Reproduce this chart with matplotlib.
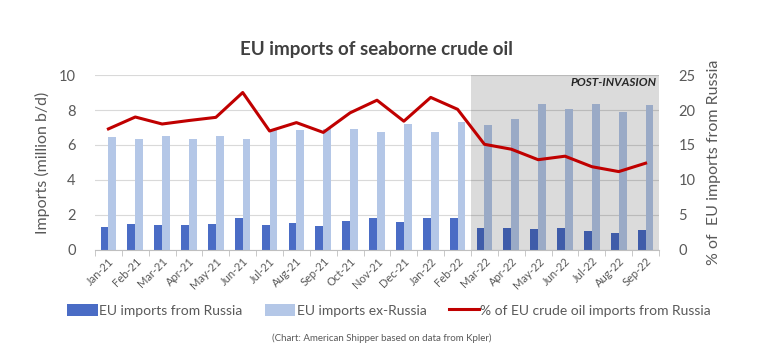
import matplotlib
matplotlib.use("Agg")
import matplotlib.pyplot as plt
import numpy as np

plt.rcParams['font.family'] = ['Lato', 'DejaVu Sans']

months = ["Jan-21", "Feb-21", "Mar-21", "Apr-21", "May-21", "Jun-21", "Jul-21",
          "Aug-21", "Sep-21", "Oct-21", "Nov-21", "Dec-21", "Jan-22", "Feb-22",
          "Mar-22", "Apr-22", "May-22", "Jun-22", "Jul-22", "Aug-22", "Sep-22"]
# million b/d
from_russia = [1.34, 1.47, 1.41, 1.43, 1.50, 1.81, 1.41, 1.52, 1.37, 1.66, 1.81,
               1.60, 1.85, 1.81, 1.24, 1.24, 1.20, 1.24, 1.10, 0.99, 1.14]
ex_russia = [6.44, 6.32, 6.50, 6.34, 6.51, 6.32, 6.85, 6.88, 6.90, 6.90, 6.74,
             7.20, 6.72, 7.30, 7.12, 7.50, 8.36, 8.08, 8.36, 7.90, 8.27]
# % of EU crude imports from Russia
pct_russia = [17.3, 19.0, 18.0, 18.5, 18.95, 22.5, 17.0, 18.2, 16.8, 19.6, 21.4,
              18.4, 21.8, 20.1, 15.1, 14.4, 12.9, 13.4, 11.9, 11.2, 12.4]
invasion_start = "Mar-22"

C_RU = "#4a6cc5"
C_EX = "#b4c7e7"
C_LINE = "#c00000"
GREY = "#595959"

fig = plt.figure(figsize=(7.63, 3.56), dpi=100)
ax = fig.add_axes([0.1245, 0.2978, 0.7392, 0.4915])
ax2 = ax.twinx()

x = np.arange(len(months))
w = 0.29
ax.bar(x - w / 2, from_russia, w, color=C_RU, zorder=2, label="EU imports from Russia")
ax.bar(x + w / 2, ex_russia, w, color=C_EX, zorder=2, label="EU imports ex-Russia")

# shaded post-invasion period (dark translucent box darkens bars too)
i0 = months.index(invasion_start)
ax.axvspan(i0 - 0.5, len(months) - 0.5, color="black", alpha=0.14, zorder=3, lw=0)
ax.text(len(months) - 0.6, 9.6, "POST-INVASION", ha="right", va="center",
        fontsize=8.5, fontweight="bold", fontstyle="italic", color="#262626", zorder=4)

ax2.plot(x, pct_russia, color=C_LINE, lw=2.2, zorder=5,
         label="% of EU crude oil imports from Russia")

ax.set_xlim(-0.5, len(months) - 0.5)
ax.set_ylim(0, 10)
ax2.set_ylim(0, 25)
ax.set_yticks(range(0, 11, 2))
ax2.set_yticks(range(0, 26, 5))
ax.grid(axis="y", color="#d9d9d9", lw=0.8, zorder=0)
ax.set_axisbelow(True)

for a in (ax, ax2):
    for s in a.spines.values():
        s.set_visible(False)
ax.spines["bottom"].set_visible(True)
ax.spines["bottom"].set_color("#bfbfbf")

ax.set_xticks(x)
ax.set_xticklabels(months, rotation=45, ha="right", rotation_mode="anchor",
                   fontsize=8, color=GREY)
ax.set_xticks(np.arange(-0.5, len(months)), minor=True)
ax.tick_params(axis="x", which="major", length=0, pad=4)
ax.tick_params(axis="x", which="minor", length=4, color="#bfbfbf")
ax.tick_params(axis="y", length=0, labelsize=10.5, labelcolor=GREY, pad=14)
ax2.tick_params(axis="y", length=0, labelsize=10.5, labelcolor=GREY, pad=14)

ax.set_ylabel("Imports (million b/d)", fontsize=11.5, color=GREY, labelpad=6)
ax2.set_ylabel("% of  EU imports from Russia", fontsize=11.5, color=GREY, labelpad=8)

fig.text(0.494, 0.86, "EU imports of seaborne crude oil", ha="center", va="center",
         fontsize=13.5, fontweight="bold", color="#404040")

h1, l1 = ax.get_legend_handles_labels()
h2, l2 = ax2.get_legend_handles_labels()
fig.legend(h1 + h2, l1 + l2, loc="center", bbox_to_anchor=(0.51, 0.128), ncol=3,
           frameon=False, fontsize=10, labelcolor=GREY, handlelength=2.2,
           handletextpad=0.1, columnspacing=1.6, handleheight=0.9)

fig.text(0.5, 0.05, "(Chart: American Shipper based on data from Kpler)",
         ha="center", va="center", fontsize=7, color=GREY)

fig.savefig("out.png", dpi=100)
